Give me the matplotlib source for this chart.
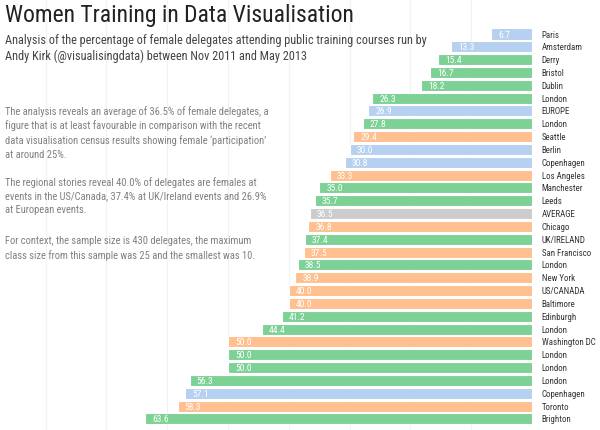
import matplotlib
matplotlib.use("Agg")
import matplotlib.pyplot as plt
from matplotlib import font_manager

names = ["Paris", "Amsterdam", "Derry", "Bristol", "Dublin", "London", "EUROPE", "London",
         "Seattle", "Berlin", "Copenhagen", "Los Angeles", "Manchester", "Leeds", "AVERAGE",
         "Chicago", "UK/IRELAND", "San Francisco", "London", "New York", "US/CANADA",
         "Baltimore", "Edinburgh", "London", "Washington DC", "London", "London", "London",
         "Copenhagen", "Toronto", "Brighton"]
values = [6.7, 13.3, 15.4, 16.7, 18.2, 26.3, 26.9, 27.8, 29.4, 30.0, 30.8, 33.3, 35.0, 35.7,
          36.5, 36.8, 37.4, 37.5, 38.5, 38.9, 40.0, 40.0, 41.2, 44.4, 50.0, 50.0, 50.0, 56.3,
          57.1, 58.3, 63.6]
regions = ["EU", "EU", "UK", "UK", "UK", "UK", "EU", "UK", "US", "EU", "EU", "US", "UK", "UK",
           "AVG", "US", "UK", "US", "UK", "US", "US", "US", "UK", "UK", "US", "UK", "UK", "UK",
           "EU", "US", "UK"]
grid_values = [10, 20, 30, 40, 50, 60, 70, 80]

colors = {"UK": "#7dd195", "EU": "#b5d0f0", "US": "#ffbf8e", "AVG": "#cccccc"}

available = {f.name for f in font_manager.fontManager.ttflist}
fam = "DejaVu Sans"
for cand in ["Liberation Sans Narrow", "Roboto Condensed", "Open Sans Condensed", "Liberation Sans"]:
    if cand in available:
        fam = cand
        break
plt.rcParams["font.family"] = [fam, "DejaVu Sans"]

fig = plt.figure(figsize=(6.0, 4.31), dpi=100)
ax = fig.add_axes([0, 0, 1, 1])
ppu = 6.08
ax.set_xlim(532 / ppu, -68 / ppu)
pitch = 12.83
ax.set_ylim((431 - 35) / pitch, -35 / pitch)

ypos = list(range(len(values)))
ax.barh(ypos, values, height=0.86, color=[colors[r] for r in regions],
        edgecolor="white", linewidth=0.8, zorder=2)

for y, v, n in zip(ypos, values, names):
    ax.text(v - 7 / ppu, y, f"{v:.1f}", color="white", fontsize=6.8, va="center", ha="left", zorder=3)
    ax.text(-9.5 / ppu, y, n, color="#333333", fontsize=6.4, va="center", ha="left", zorder=3)

for g in grid_values:
    ax.axvline(g, color="#f2f2f2", linewidth=0.8, zorder=0)

ax.axis("off")

fig.text(0.008, 0.99, "Women Training in Data Visualisation", fontsize=17,
         color="#222222", va="top", ha="left")
fig.text(0.008, 0.922, "Analysis of the percentage of female delegates attending public training courses run by\n"
         "Andy Kirk (@visualisingdata) between Nov 2011 and May 2013",
         fontsize=8.8, color="#444444", va="top", ha="left", linespacing=1.3)

para1 = ("The analysis reveals an average of 36.5% of female delegates, a\n"
         "figure that is at least favourable in comparison with the recent\n"
         "data visualisation census results showing female \u2018participation\u2019\n"
         "at around 25%.")
para2 = ("The regional stories reveal 40.0% of delegates are females at\n"
         "events in the US/Canada, 37.4% at UK/Ireland events and 26.9%\n"
         "at European events.")
para3 = ("For context, the sample size is 430 delegates, the maximum\n"
         "class size from this sample was 25 and the smallest was 10.")
for ytop, p in [(0.755, para1), (0.589, para2), (0.453, para3)]:
    fig.text(0.008, ytop, p, fontsize=7.6, color="#808080", va="top", ha="left", linespacing=1.45)

fig.savefig("out.png", dpi=100)
